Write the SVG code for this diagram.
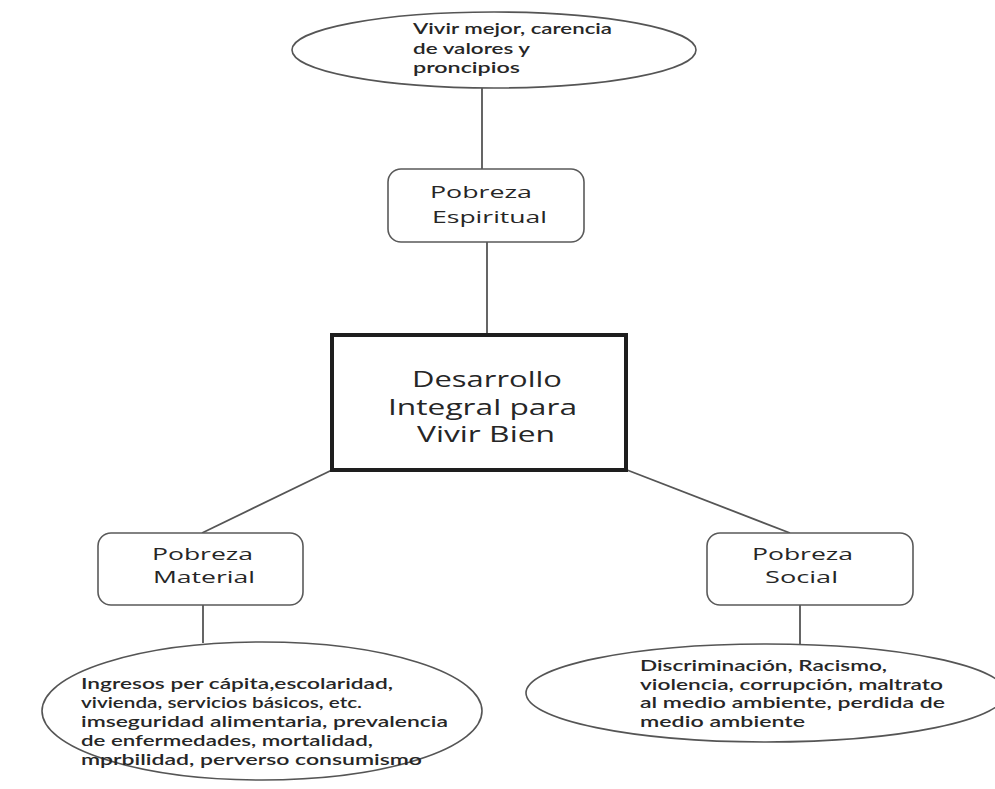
<svg xmlns="http://www.w3.org/2000/svg" width="995" height="789" viewBox="0 0 995 789">
<style>
.bg{fill:#ffffff}
.ell{fill:#ffffff;stroke:#555555;stroke-width:1.6}
.rbox{fill:#ffffff;stroke:#5a5a5a;stroke-width:1.6}
.main{fill:#ffffff;stroke:#1e1e1e;stroke-width:4}
.conn line{stroke:#555555;stroke-width:1.8}
text{font-family:"Open Sans","DejaVu Sans",sans-serif;fill:#262626}
.t16{font-family:Lato,"Open Sans",sans-serif;font-size:15.5px;font-weight:600}
.t17{font-size:17px}
.t21{font-size:21px}
</style>
<rect class="bg" x="0" y="0" width="995" height="789"/>
<g id="connectors" class="conn">
<line x1="482" y1="88" x2="482" y2="169"/>
<line x1="487" y1="242" x2="487" y2="335"/>
<line x1="332" y1="470" x2="202" y2="533"/>
<line x1="627" y1="470" x2="790" y2="533"/>
<line x1="203" y1="605" x2="203" y2="643"/>
<line x1="800" y1="605" x2="800" y2="644"/>
</g>
<g id="node-valores">
<ellipse class="ell" cx="494" cy="50" rx="202" ry="38"/>
<text class="t16" x="413" y="34" textLength="199" lengthAdjust="spacingAndGlyphs">Vivir mejor, carencia</text>
<text class="t16" x="413" y="54" textLength="117" lengthAdjust="spacingAndGlyphs">de valores y</text>
<text class="t16" x="413" y="73" textLength="107" lengthAdjust="spacingAndGlyphs">proncipios</text>
</g>
<g id="node-espiritual">
<rect class="rbox" x="388" y="169" width="196" height="73" rx="13" ry="13"/>
<text class="t17" x="430" y="198" textLength="102" lengthAdjust="spacingAndGlyphs">Pobreza</text>
<text class="t17" x="432" y="223" textLength="115" lengthAdjust="spacingAndGlyphs">Espiritual</text>
</g>
<g id="node-desarrollo">
<rect class="main" x="332" y="335" width="294" height="135"/>
<text class="t21" x="412" y="387" textLength="150" lengthAdjust="spacingAndGlyphs">Desarrollo</text>
<text class="t21" x="388" y="415" textLength="189" lengthAdjust="spacingAndGlyphs">Integral para</text>
<text class="t21" x="417" y="442" textLength="138" lengthAdjust="spacingAndGlyphs">Vivir Bien</text>
</g>
<g id="node-material">
<rect class="rbox" x="98" y="533" width="205" height="72" rx="13" ry="13"/>
<text class="t17" x="152" y="560" textLength="101" lengthAdjust="spacingAndGlyphs">Pobreza</text>
<text class="t17" x="153" y="583" textLength="102" lengthAdjust="spacingAndGlyphs">Material</text>
</g>
<g id="node-social">
<rect class="rbox" x="707" y="533" width="206" height="72" rx="13" ry="13"/>
<text class="t17" x="752" y="560" textLength="101" lengthAdjust="spacingAndGlyphs">Pobreza</text>
<text class="t17" x="765" y="583" textLength="73" lengthAdjust="spacingAndGlyphs">Social</text>
</g>
<g id="node-material-detalle">
<ellipse class="ell" cx="262" cy="711" rx="220" ry="69"/>
<text class="t16" x="81" y="689" textLength="312" lengthAdjust="spacingAndGlyphs">Ingresos per cápita,escolaridad,</text>
<text class="t16" x="81" y="708" textLength="281" lengthAdjust="spacingAndGlyphs">vivienda, servicios básicos, etc.</text>
<text class="t16" x="81" y="727" textLength="367" lengthAdjust="spacingAndGlyphs">imseguridad alimentaria, prevalencia</text>
<text class="t16" x="81" y="746" textLength="292" lengthAdjust="spacingAndGlyphs">de enfermedades, mortalidad,</text>
<text class="t16" x="81" y="765" textLength="341" lengthAdjust="spacingAndGlyphs">mprbilidad, perverso consumismo</text>
</g>
<g id="node-social-detalle">
<ellipse class="ell" cx="766" cy="693" rx="240" ry="49"/>
<text class="t16" x="640" y="671" textLength="247" lengthAdjust="spacingAndGlyphs">Discriminación, Racismo,</text>
<text class="t16" x="640" y="690" textLength="303" lengthAdjust="spacingAndGlyphs">violencia, corrupción, maltrato</text>
<text class="t16" x="640" y="708" textLength="305" lengthAdjust="spacingAndGlyphs">al medio ambiente, perdida de</text>
<text class="t16" x="640" y="727" textLength="165" lengthAdjust="spacingAndGlyphs">medio ambiente</text>
</g>
</svg>
